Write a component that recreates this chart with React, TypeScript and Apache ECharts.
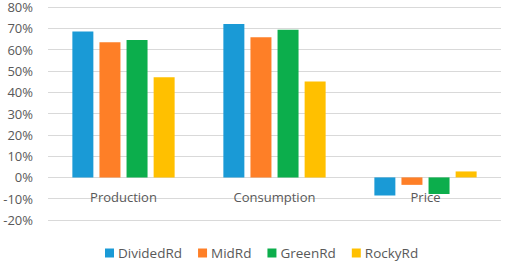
import React, { useEffect, useRef } from "react";
import * as echarts from "echarts";

const categories = ["Production", "Consumption", "Price"];
const seriesNames = ["DividedRd", "MidRd", "GreenRd", "RockyRd"];
const dividedRd = [68.5, 72, -8.5];
const midRd = [63.5, 65.8, -3.5];
const greenRd = [64.5, 69.3, -7.8];
const rockyRd = [47, 45, 2.8];
const colors = ["#1a9ad6", "#fe7f27", "#0cae4c", "#ffc000"];

export default function App() {
  const ref = useRef<HTMLDivElement>(null);
  useEffect(() => {
    if (!ref.current) return;
    const chart = echarts.init(ref.current, undefined, { renderer: "svg" });
    const data = [dividedRd, midRd, greenRd, rockyRd];
    chart.setOption({
      animation: false,
      textStyle: { fontFamily: "Open Sans" },
      grid: { left: 48, right: 4, top: 7, bottom: 43, containLabel: false },
      legend: {
        bottom: -2,
        left: 100,
        itemWidth: 9,
        itemHeight: 9,
        itemGap: 16,
        icon: "rect",
        textStyle: { color: "#595959", fontSize: 13.5, fontFamily: "Open Sans", padding: [0, 0, 0, -1] },
        data: seriesNames,
      },
      xAxis: {
        type: "category",
        data: categories,
        position: "bottom",
        offset: -42,
        axisLine: { onZero: false, show: false },
        axisTick: { show: false },
        axisLabel: { color: "#595959", fontSize: 13, margin: 12, fontFamily: "Open Sans" },
        z: 10,
      },
      yAxis: {
        type: "value",
        min: -20,
        max: 80,
        interval: 10,
        axisLabel: { formatter: "{value}%", color: "#595959", fontSize: 13, margin: 15, fontFamily: "Open Sans" },
        axisLine: { show: false },
        axisTick: { show: false },
        splitLine: { lineStyle: { color: "#d9d9d9" } },
      },
      series: seriesNames.map((name, i) => ({
        name,
        type: "bar",
        data: data[i],
        barWidth: 21,
        barGap: "29%",
        itemStyle: { color: colors[i] },
      })),
    });
    return () => chart.dispose();
  }, []);
  return (
    <div
      ref={ref}
      style={{ position: "fixed", left: 0, top: 0, width: 505, height: 263, background: "#fff" }}
    />
  );
}
